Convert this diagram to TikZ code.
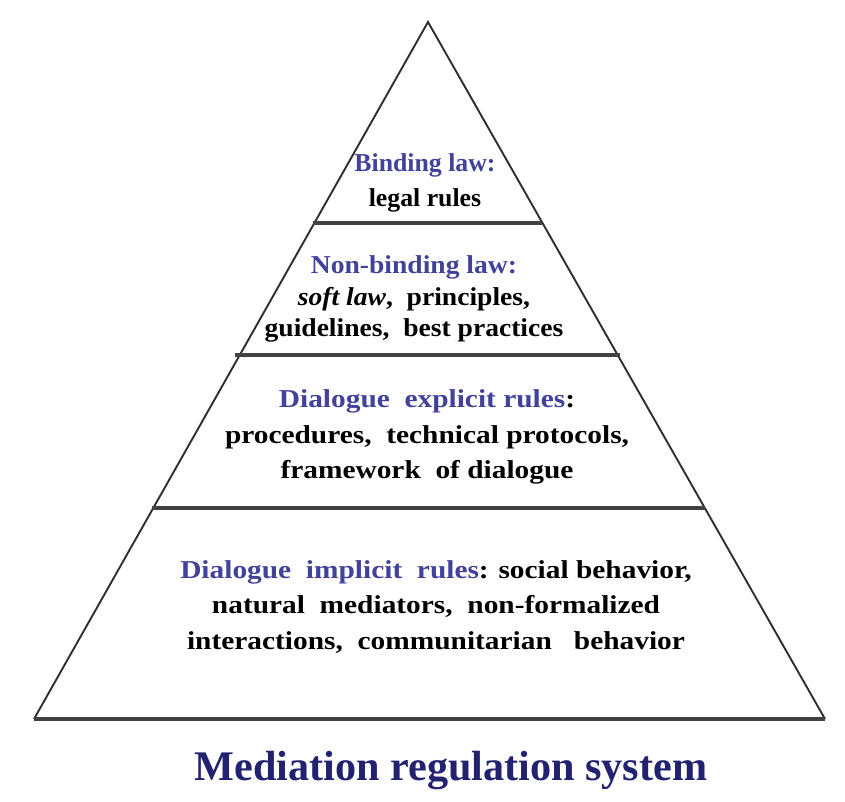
\documentclass[tikz,border=0pt]{standalone}
\usepackage{fontspec}
\setmainfont{Liberation Serif}
\newfontfamily\widerserif[FakeStretch=1.07]{Liberation Serif}
\newfontfamily\widestserif[FakeStretch=1.14]{Liberation Serif}
\definecolor{headblue}{RGB}{66,66,155}
\definecolor{titlenavy}{RGB}{34,34,112}
\definecolor{edge}{RGB}{45,45,45}
\begin{document}
\begin{tikzpicture}[x=0.03cm, y=-0.03cm,
    side/.style={draw=edge, line width=1.6pt, line join=miter},
    tierline/.style={draw=edge!90!white, line width=2.7pt},
    tiertext/.style={align=center, font=\fontsize{22}{30}\selectfont\bfseries, inner sep=0pt},
    head/.style={text=headblue}]
  \useasboundingbox (0,0) rectangle (845,801);
  \fill[white] (0,0) rectangle (845,801);

  % outline of the pyramid
  \coordinate (apex) at (428,22);
  \coordinate (bl) at (34,719);
  \coordinate (br) at (825,719);
  \draw[side] (bl) -- (apex) -- (br);
  \draw[tierline] (bl) -- (br);

  % dividing lines between the tiers
  \draw[tierline] (313,223) -- (542,223);
  \draw[tierline] (235,355) -- (620,355);
  \draw[tierline] (152,508) -- (705,508);

  % tier labels
  \node[tiertext] (t1) at (425,183) {\textcolor{headblue}{Binding law:}\\legal rules};
  \node[tiertext, font=\fontsize{22}{27}\selectfont\bfseries\widerserif] (t2) at (414,299)
    {\textcolor{headblue}{Non-binding law:}\\\textit{soft law},\ \ principles,\\guidelines,\ \ best practices};
  \node[tiertext, font=\fontsize{22}{30}\selectfont\bfseries\widestserif] (t3) at (427,437)
    {\textcolor{headblue}{Dialogue\ \ explicit rules}:\\procedures,\ \ technical protocols,\\framework\ \ of dialogue};
  \node[tiertext, font=\fontsize{22}{30}\selectfont\bfseries\widestserif] (t4) at (436,607)
    {\textcolor{headblue}{Dialogue\ \ implicit\ \ rules}: social behavior,\\natural\ \ mediators,\ \ non-formalized\\interactions,\ \ communitarian\ \ \ behavior};

  % caption
  \node[font=\fontsize{36}{40}\selectfont\bfseries, text=titlenavy, inner sep=0pt] (cap) at (451,771) {Mediation regulation system};
\end{tikzpicture}
\end{document}
